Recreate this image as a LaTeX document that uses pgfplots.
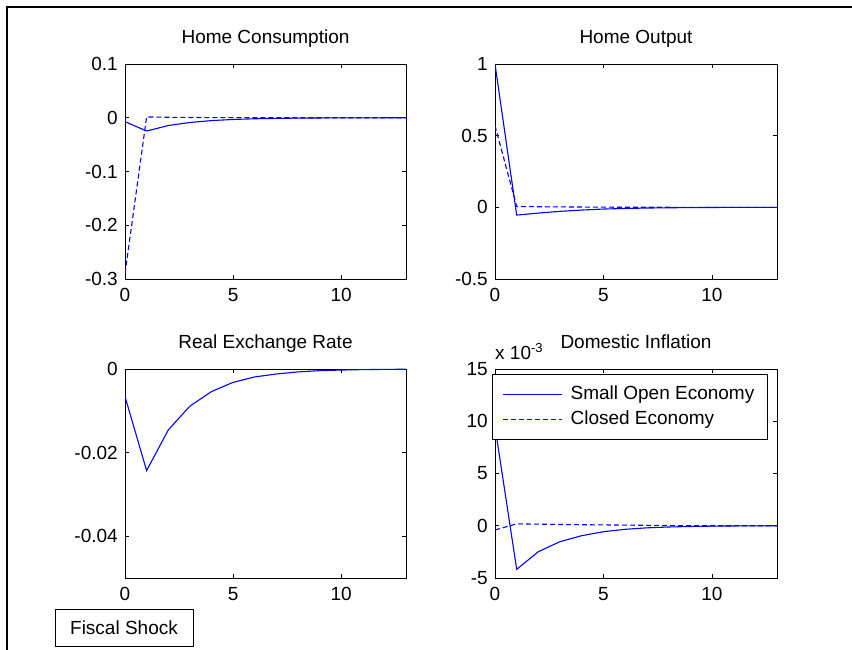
\documentclass[border=0pt]{standalone}
\usepackage{pgfplots}
\pgfplotsset{compat=1.18}
\usepackage{fontspec}
\setmainfont{Liberation Sans}
\newcommand{\ff}{\fontsize{19}{22}\selectfont}
\definecolor{mblue}{RGB}{0,0,255}
\pgfplotsset{
  mat/.style={
    scale only axis, anchor=south west,
    xmin=0, xmax=13, xtick={0,5,10}, xticklabels={0,5,10},
    tick align=inside, xtick pos=both, ytick pos=both,
    major tick length=4pt,
    axis line style={line width=0.8pt, black},
    tick style={line width=0.8pt, black},
    font=\ff,
    title style={at={(0.5,1)}, anchor=base, yshift=14pt, inner sep=0pt, font=\ff},
    xticklabel style={anchor=north, inner sep=0pt, yshift=-9pt, font=\ff},
    yticklabel style={anchor=east, inner sep=0pt, xshift=-7pt, font=\ff},
    scaled y ticks=false,
  },
  soe/.style={mblue, line width=1.1pt},
  ce/.style={mblue, line width=1.1pt, dash pattern=on 5pt off 3pt},
}
\begin{document}
\begin{tikzpicture}[x=1pt,y=1pt]
\path[use as bounding box] (0pt,0pt) rectangle (852pt,650pt);
\draw[line width=1.5pt] (7pt,0pt) -- (7pt,643pt) -- (852pt,643pt);

% Home Consumption
\begin{axis}[mat, at={(125pt,371pt)}, width=281pt, height=215pt,
  ymin=-0.3, ymax=0.1, ytick={-0.3,-0.2,-0.1,0,0.1},
  yticklabels={-0.3,-0.2,-0.1,0,0.1},
  title={Home Consumption}]
\addplot[soe] coordinates {(0,-0.0073) (1,-0.0247) (2,-0.0145) (3,-0.0088) (4,-0.0053) (5,-0.0032) (6,-0.0019) (7,-0.0012) (8,-0.0007) (9,-0.0004) (10,-0.00025) (11,-0.00015) (12,-0.0001) (13,-0.00005)};
\addplot[ce] coordinates {(0,-0.29) (1,0.0015) (2,0.0009) (3,0.0005) (4,0.0003) (5,0.0002) (6,0.0001) (7,0.00005) (8,0.00003) (9,0.00002) (10,0.00001) (11,0) (12,0) (13,0)};
\end{axis}

% Home Output
\begin{axis}[mat, at={(495pt,371pt)}, width=282pt, height=215pt,
  ymin=-0.5, ymax=1, ytick={-0.5,0,0.5,1},
  yticklabels={-0.5,0,0.5,1},
  title={Home Output}]
\addplot[soe] coordinates {(0,1.0) (1,-0.054) (2,-0.040) (3,-0.028) (4,-0.019) (5,-0.012) (6,-0.008) (7,-0.005) (8,-0.003) (9,-0.002) (10,-0.001) (11,-0.0006) (12,-0.0004) (13,-0.0002)};
\addplot[ce] coordinates {(0,0.57) (1,0.006) (2,0.004) (3,0.003) (4,0.002) (5,0.001) (6,0.0007) (7,0.0004) (8,0.0002) (9,0.0001) (10,0.00005) (11,0) (12,0) (13,0)};
\end{axis}

% Real Exchange Rate
\begin{axis}[mat, at={(125pt,72pt)}, width=281pt, height=209pt,
  ymin=-0.05, ymax=0, ytick={-0.04,-0.02,0},
  yticklabels={-0.04,-0.02,0},
  title={Real Exchange Rate}]
\addplot[soe] coordinates {(0,-0.0066) (1,-0.0243) (2,-0.0146) (3,-0.0089) (4,-0.0054) (5,-0.0032) (6,-0.0019) (7,-0.0012) (8,-0.0007) (9,-0.0004) (10,-0.00025) (11,-0.00015) (12,-0.0001) (13,-0.00005)};
\end{axis}

% Domestic Inflation
\begin{axis}[mat, at={(495pt,72pt)}, width=282pt, height=209pt,
  clip mode=individual,
  ymin=-0.005, ymax=0.015, ytick={-0.005,0,0.005,0.01,0.015},
  yticklabels={-5,0,5,10,15},
  title={Domestic Inflation},
  legend style={at={(0,1)}, anchor=north west, xshift=-3pt, yshift=-5pt,
    draw, line width=1pt, fill=white, font=\ff,
    inner xsep=10pt, inner ysep=8pt, row sep=1pt, column sep=5pt,
    nodes={inner sep=3pt, text height=14pt, text depth=4pt}},
  legend cell align=left,
  legend image code/.code={\draw[#1] (0pt,0pt) -- (59pt,0pt);}]
\addplot[soe] coordinates {(0,0.0095) (1,-0.00417) (2,-0.00248) (3,-0.00152) (4,-0.00095) (5,-0.00057) (6,-0.00034) (7,-0.0002) (8,-0.00012) (9,-0.00007) (10,-0.00004) (11,-0.00002) (12,-0.00001) (13,0)};
\addlegendentry{Small Open Economy}
\addplot[ce] coordinates {(0,-0.0004) (1,0.00018) (2,0.00015) (3,0.00012) (4,0.0001) (5,0.00008) (6,0.00006) (7,0.00004) (8,0.00002) (9,0.00001) (10,0) (11,0) (12,0) (13,0)};
\addlegendentry{Closed Economy}
\node[anchor=base west, inner sep=0pt, font=\ff] at (rel axis cs:0,1) [yshift=9pt] {x 10\raisebox{7pt}{\fontsize{13}{13}\selectfont -3}};
\end{axis}

\node[draw, line width=0.8pt, minimum width=138pt, minimum height=37pt, inner sep=0pt, font=\ff] at (124pt,22.5pt) {Fiscal Shock};
\end{tikzpicture}
\end{document}
